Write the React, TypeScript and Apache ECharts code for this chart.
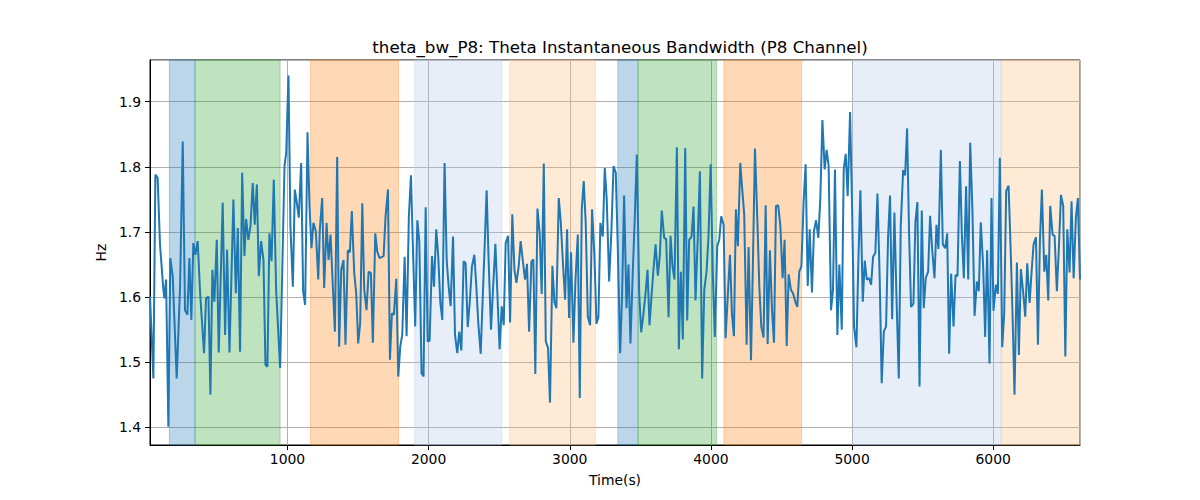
import React, { useEffect, useRef } from "react";
import * as echarts from "echarts";

const TITLE = "theta_bw_P8: Theta Instantaneous Bandwidth (P8 Channel)";
const X_NAME = "Time(s)";
const Y_NAME = "Hz";

const times = [
  26, 50, 64, 80, 97, 121, 128, 140, 156, 170, 187, 215, 239, 258, 274, 291, 305, 319, 333, 348,
  364, 381, 409, 423, 440, 454, 468, 482, 499, 513, 541, 558, 572, 589, 617, 634, 648, 664, 679, 695,
  707, 723, 738, 754, 768, 783, 797, 813, 830, 844, 858, 872, 887, 903, 920, 948, 979, 991, 1007, 1021,
  1038, 1052, 1066, 1080, 1097, 1111, 1125, 1142, 1156, 1170, 1184, 1201, 1218, 1229, 1246, 1260, 1277, 1291, 1305, 1322,
  1336, 1352, 1366, 1381, 1397, 1411, 1428, 1442, 1456, 1473, 1487, 1501, 1515, 1530, 1544, 1560, 1575, 1591, 1605, 1622,
  1636, 1652,
  1681, 1695, 1712, 1726, 1740, 1754, 1771, 1785, 1799, 1813, 1830, 1844, 1860, 1875, 1889, 1905, 1920, 1934, 1950, 1964,
  1979, 1993, 2007, 2024, 2038, 2054, 2068, 2083, 2097, 2113, 2128, 2142, 2156, 2173, 2187, 2203, 2217, 2232, 2248, 2262,
  2277, 2291, 2307, 2324, 2338, 2352, 2369, 2383, 2397, 2411, 2425, 2442, 2456, 2473, 2487, 2503, 2518, 2532, 2546, 2563,
  2577, 2593, 2608, 2622, 2638, 2652, 2667, 2683, 2697, 2712, 2728, 2742, 2756, 2771, 2787, 2801, 2816, 2830, 2846, 2860,
  2877, 2891, 2905, 2922, 2936, 2953, 2967, 2981, 2995, 3009, 3026, 3040, 3057, 3071, 3085, 3099, 3113, 3128, 3144, 3158,
  3175, 3189, 3203, 3217, 3234, 3248, 3262, 3279,
  3295, 3310, 3326, 3340, 3357, 3371, 3385, 3402, 3416, 3430, 3447, 3461, 3475, 3492, 3506, 3520, 3537, 3551, 3565, 3579,
  3593, 3608, 3624, 3638, 3652, 3669, 3683, 3700, 3714, 3728, 3742, 3759, 3773, 3787, 3801, 3818, 3832, 3846, 3863, 3877,
  3891, 3908, 3922, 3938, 3953, 3969, 3983, 3998, 4014, 4028, 4045, 4059, 4073, 4090, 4104, 4118, 4135, 4149, 4163, 4177,
  4191, 4208, 4222, 4236, 4253, 4267, 4284, 4298, 4312, 4329, 4343, 4357, 4373, 4388, 4402, 4418, 4433, 4447, 4461, 4477,
  4492, 4508, 4522, 4537, 4551, 4567, 4582, 4598, 4612, 4626, 4641, 4657, 4671, 4686, 4700, 4716, 4730, 4745, 4761, 4775,
  4790, 4806, 4820, 4834, 4851, 4865, 4879, 4896, 4910,
  4927, 4941, 4955, 4969, 4986, 5000, 5014, 5031, 5045, 5059, 5076, 5090, 5104, 5121, 5135, 5149, 5165, 5180, 5196, 5210,
  5225, 5241, 5255, 5269, 5284, 5300, 5314, 5331, 5345, 5362, 5376, 5390, 5404, 5418, 5435, 5449, 5463, 5478, 5494, 5508,
  5522, 5539, 5553, 5567, 5584, 5598, 5612, 5629, 5643, 5660, 5674, 5688, 5702, 5719, 5733, 5747, 5764, 5778, 5792, 5808,
  5823, 5837, 5853, 5868, 5884, 5898, 5912, 5929, 5943, 5957, 5974, 5988, 6002, 6019, 6033, 6047, 6064, 6078, 6092, 6109,
  6123, 6137, 6151, 6168, 6182, 6196, 6213, 6227, 6241, 6258, 6272, 6286, 6303, 6317, 6331, 6345, 6362, 6376, 6390, 6404,
  6421, 6435, 6451, 6466, 6480, 6496, 6511, 6525, 6541, 6555, 6570, 6586, 6600, 6615,
];

const values = [
  1.601, 1.475, 1.788, 1.783, 1.68, 1.611, 1.598, 1.627, 1.401, 1.66, 1.632, 1.475, 1.616, 1.839, 1.58, 1.573, 1.66, 1.565, 1.683, 1.665,
  1.686, 1.606, 1.514, 1.598, 1.601, 1.45, 1.642, 1.593, 1.688, 1.515, 1.745, 1.542, 1.673, 1.515, 1.75, 1.606, 1.706, 1.516, 1.791, 1.663,
  1.72, 1.688, 1.709, 1.775, 1.711, 1.773, 1.632, 1.686, 1.657, 1.496, 1.493, 1.698, 1.655, 1.78, 1.609, 1.491, 1.801, 1.822, 1.94, 1.709,
  1.616, 1.765, 1.745, 1.722, 1.806, 1.609, 1.588, 1.853, 1.74, 1.675, 1.714, 1.701, 1.627, 1.703, 1.752, 1.614, 1.714, 1.657, 1.696, 1.614,
  1.547, 1.815, 1.524, 1.642, 1.657, 1.527, 1.672, 1.669, 1.732, 1.637, 1.606, 1.529, 1.56, 1.744, 1.611, 1.58, 1.639, 1.637, 1.53, 1.698,
  1.67, 1.66,
  1.663, 1.724, 1.765, 1.504, 1.575, 1.573, 1.628, 1.478, 1.524, 1.542, 1.662, 1.54, 1.724, 1.787, 1.673, 1.555, 1.718, 1.686, 1.483, 1.478,
  1.738, 1.532, 1.533, 1.663, 1.616, 1.704, 1.663, 1.591, 1.565, 1.806, 1.657, 1.616, 1.586, 1.693, 1.542, 1.514, 1.547, 1.518, 1.655, 1.652,
  1.554, 1.591, 1.647, 1.665, 1.616, 1.56, 1.513, 1.598, 1.678, 1.764, 1.657, 1.55, 1.611, 1.682, 1.606, 1.52, 1.586, 1.557, 1.683, 1.694,
  1.561, 1.727, 1.642, 1.622, 1.647, 1.686, 1.657, 1.627, 1.651, 1.547, 1.654, 1.658, 1.482, 1.736, 1.698, 1.605, 1.805, 1.532, 1.522, 1.438,
  1.648, 1.593, 1.583, 1.752, 1.716, 1.647, 1.596, 1.704, 1.568, 1.669, 1.53, 1.624, 1.696, 1.445, 1.735, 1.778, 1.714, 1.57, 1.557, 1.735,
  1.663, 1.559, 1.569, 1.714, 1.693, 1.798, 1.75, 1.624,
  1.701, 1.801, 1.791, 1.678, 1.514, 1.606, 1.756, 1.583, 1.65, 1.529, 1.642, 1.724, 1.819, 1.606, 1.546, 1.57, 1.606, 1.642, 1.557, 1.601,
  1.642, 1.681, 1.633, 1.663, 1.733, 1.691, 1.689, 1.569, 1.694, 1.647, 1.627, 1.83, 1.52, 1.639, 1.535, 1.829, 1.564, 1.688, 1.693, 1.739,
  1.595, 1.698, 1.793, 1.475, 1.611, 1.639, 1.693, 1.804, 1.632, 1.539, 1.678, 1.688, 1.724, 1.711, 1.537, 1.596, 1.665, 1.575, 1.54, 1.735,
  1.678, 1.806, 1.765, 1.727, 1.527, 1.677, 1.503, 1.657, 1.828, 1.719, 1.616, 1.555, 1.538, 1.741, 1.528, 1.672, 1.58, 1.53, 1.74, 1.741,
  1.709, 1.629, 1.688, 1.525, 1.635, 1.611, 1.606, 1.593, 1.585, 1.639, 1.647, 1.747, 1.804, 1.617, 1.704, 1.607, 1.701, 1.718, 1.691, 1.75,
  1.872, 1.796, 1.826, 1.802, 1.58, 1.611, 1.796, 1.542, 1.65,
  1.55, 1.796, 1.82, 1.755, 1.884, 1.74, 1.555, 1.523, 1.657, 1.764, 1.593, 1.656, 1.627, 1.629, 1.619, 1.662, 1.668, 1.759, 1.627, 1.468,
  1.547, 1.555, 1.691, 1.756, 1.566, 1.73, 1.606, 1.475, 1.709, 1.795, 1.787, 1.859, 1.698, 1.585, 1.59, 1.716, 1.746, 1.463, 1.733, 1.583,
  1.629, 1.639, 1.725, 1.675, 1.629, 1.711, 1.674, 1.826, 1.681, 1.675, 1.698, 1.513, 1.636, 1.555, 1.634, 1.632, 1.809, 1.696, 1.629, 1.77,
  1.627, 1.837, 1.732, 1.571, 1.624, 1.609, 1.715, 1.647, 1.539, 1.672, 1.498, 1.752, 1.579, 1.619, 1.605, 1.814, 1.523, 1.575, 1.763, 1.771,
  1.678, 1.575, 1.45, 1.653, 1.511, 1.643, 1.606, 1.57, 1.652, 1.591, 1.639, 1.681, 1.692, 1.527, 1.686, 1.765, 1.639, 1.665, 1.595, 1.74,
  1.696, 1.694, 1.609, 1.679, 1.757, 1.74, 1.509, 1.704, 1.638, 1.747, 1.629, 1.722, 1.752, 1.627,
];

const spanStarts = [163, 345, 1163, 1901, 2574, 3340, 3484, 4092, 5005, 6057];
const spanEnds = [345, 948, 1787, 2518, 3182, 3484, 4040, 4643, 6057, 6615];
const spanKinds = ["blue", "green", "orange", "lightblue", "lightorange", "blue", "green", "orange", "lightblue", "lightorange"];

const kindColors: Record<string, string> = {
  blue: "rgba(31,119,180,0.3)",
  green: "rgba(44,160,44,0.3)",
  orange: "rgba(255,127,14,0.3)",
  lightblue: "rgba(174,199,232,0.3)",
  lightorange: "rgba(255,187,120,0.3)",
};

const X_MIN = 26;
const X_MAX = 6615;
const Y_MIN = 1.373;
const Y_MAX = 1.964;

const FONT = "DejaVu Sans";

export default function App() {
  const ref = useRef<HTMLDivElement>(null);
  useEffect(() => {
    document.body.style.margin = "0";
    if (!ref.current) return;
    const chart = echarts.init(ref.current, undefined, { renderer: "svg" });
    const data = times.map((t, i) => [t, values[i]]);
    const areas = spanStarts.map((s, i) => [
      {
        xAxis: s,
        itemStyle: { color: kindColors[spanKinds[i]], borderColor: kindColors[spanKinds[i]], borderWidth: 1 },
      },
      { xAxis: spanEnds[i] },
    ]);
    chart.setOption({
      animation: false,
      title: {
        text: TITLE,
        left: 615,
        top: 33,
        textAlign: "center",
        textStyle: { fontFamily: FONT, fontSize: 16.7, fontWeight: "normal", color: "#000" },
      },
      grid: {
        left: 150,
        right: 120,
        top: 60,
        bottom: 55,
        show: true,
        borderColor: "#000",
        borderWidth: 1,
        backgroundColor: "transparent",
      },
      xAxis: {
        type: "value",
        min: X_MIN,
        max: X_MAX,
        name: X_NAME,
        nameLocation: "middle",
        nameGap: 28,
        nameTextStyle: { fontFamily: FONT, fontSize: 13.9, color: "#000" },
        axisLine: { show: true, lineStyle: { color: "#000", width: 1 } },
        axisTick: { show: true, length: 5, lineStyle: { color: "#000", width: 1 } },
        axisLabel: {
          showMinLabel: false,
          showMaxLabel: false,
          margin: 7,
          fontFamily: FONT,
          fontSize: 13.9,
          color: "#000",
          formatter: (v: number) => String(Math.round(v)),
        },
        splitLine: { show: true, lineStyle: { color: "#b0b0b0", width: 1 } },
      },
      yAxis: {
        type: "value",
        min: Y_MIN,
        max: Y_MAX,
        name: Y_NAME,
        nameLocation: "middle",
        nameGap: 35,
        nameTextStyle: { fontFamily: FONT, fontSize: 13.9, color: "#000" },
        axisLine: { show: true, lineStyle: { color: "#000", width: 1 } },
        axisTick: { show: true, length: 5, lineStyle: { color: "#000", width: 1 } },
        axisLabel: {
          showMinLabel: false,
          showMaxLabel: false,
          margin: 9,
          fontFamily: FONT,
          fontSize: 13.9,
          color: "#000",
          formatter: (v: number) => v.toFixed(1),
        },
        splitLine: { show: true, lineStyle: { color: "#b0b0b0", width: 1 } },
      },
      series: [
        {
          type: "line",
          data,
          showSymbol: false,
          symbol: "none",
          lineStyle: { color: "#1f77b4", width: 2 },
          itemStyle: { color: "#1f77b4" },
          markArea: { silent: true, data: areas },
        },
      ],
    });
    return () => chart.dispose();
  }, []);
  return <div ref={ref} style={{ width: 1200, height: 500 }} />;
}
